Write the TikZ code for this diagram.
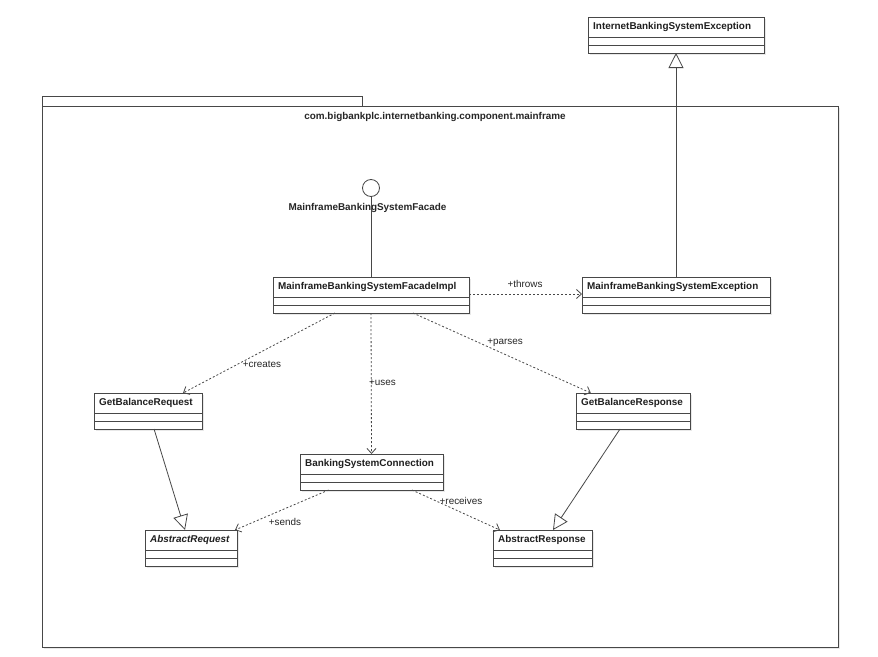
\documentclass[tikz,border=0pt]{standalone}
\usepackage{fontspec}
\setmainfont{Liberation Sans}
\usetikzlibrary{arrows.meta,calc}
\tikzset{
  ln/.style={draw=black!72, line width=0.8pt},
  classbox/.style={ln, fill=white, rectangle, inner sep=0pt, outer sep=0pt, anchor=north west},
  classname/.style={anchor=west, inner sep=0pt, font=\fontsize{9.9}{12}\selectfont\bfseries, text=black!88},
  lbl/.style={inner sep=0pt, font=\fontsize{9.9}{12}\selectfont, text=black!85},
  dep/.style={ln, dash pattern=on 2pt off 2pt, -{Straight Barb[length=5pt,width=9pt,line width=0.8pt]}},
  gen/.style={ln, -{Triangle[open, length=15pt, width=15pt, line width=0.8pt, fill=white]}},
  shadowbox/.style={fill=black!9, draw=none}
}
\newcommand\umlclass[7][]{% opts, name, x1, y1, x2, y2, text
  \fill[shadowbox] ({#3+2},{#4+2}) rectangle ({#5+2},{#6+2});
  \node[classbox, minimum width={(#5-#3)*1pt}, minimum height={(#6-#4)*1pt}] (#2) at (#3,#4) {};
  \draw[ln] ([yshift=-20pt]#2.north west) -- ([yshift=-20pt]#2.north east);
  \draw[ln] ([yshift=-28pt]#2.north west) -- ([yshift=-28pt]#2.north east);
  \node[classname,#1] (#2-name) at ([xshift=5pt,yshift=-10pt]#2.north west) {#7};
}
\begin{document}
\begin{tikzpicture}[x=1pt,y=-1pt]
\useasboundingbox (0,0) rectangle (878,656);
\fill[white] (0,0) rectangle (878,656);

% package
\fill[shadowbox] (44,108) rectangle (840,649);
\draw[ln, fill=white] (42,96) rectangle (362,106);
\node[ln, rectangle, fill=white, inner sep=0pt, outer sep=0pt, anchor=north west, minimum width=796pt, minimum height=541pt] (pkg) at (42,106) {};
\node[lbl, font=\fontsize{9.9}{12}\selectfont\bfseries] (pkglabel) at (435,117) {com.bigbankplc.internetbanking.component.mainframe};

% classes
\umlclass{ibse}{588}{17}{764}{53}{InternetBankingSystemException}
\umlclass{impl}{273}{277}{469}{313}{MainframeBankingSystemFacadeImpl}
\umlclass{mbse}{582}{277}{770}{313}{MainframeBankingSystemException}
\umlclass{gbreq}{94}{393}{202}{429}{GetBalanceRequest}
\umlclass{gbresp}{576}{393}{690}{429}{GetBalanceResponse}
\umlclass{bsc}{300}{454}{443}{490}{BankingSystemConnection}
\umlclass[font=\fontsize{9.9}{12}\selectfont\bfseries\itshape]{areq}{145}{530}{237}{566}{AbstractRequest}
\umlclass{aresp}{493}{530}{592}{566}{AbstractResponse}

% interface lollipop
\node[ln, circle, fill=white, minimum size=17pt, inner sep=0pt, outer sep=0pt] (iface) at (371,188) {};
\node[lbl, font=\fontsize{9.9}{12}\selectfont\bfseries] (ifacelabel) at (367.5,208) {MainframeBankingSystemFacade};
\draw[ln] (iface.south) -- (impl.north);

% generalizations
\draw[gen] (mbse.north) -- (ibse.south);
\draw[gen] ($(gbreq.south west)!0.556!(gbreq.south east)$) -- ($(areq.north west)!0.435!(areq.north east)$);
\draw[gen] ($(gbresp.south west)!0.386!(gbresp.south east)$) -- ($(aresp.north west)!0.606!(aresp.north east)$);

% dependencies
\draw[dep] ([yshift=-17pt]impl.north east) -- ([yshift=-17pt]mbse.north west);
\node[lbl] (throws) at (525,284) {+throws};
\draw[dep] ($(impl.south west)!0.316!(impl.south east)$) -- ($(gbreq.north west)!0.824!(gbreq.north east)$);
\node[lbl] (creates) at (262,364) {+creates};
\draw[dep] (impl.south) -- (bsc.north);
\node[lbl, anchor=west] (uses) at (369,383) {+uses};
\draw[dep] ($(impl.south west)!0.714!(impl.south east)$) -- ($(gbresp.north west)!0.13!(gbresp.north east)$);
\node[lbl] (parses) at (505,343) {+parses};
\draw[dep] ($(bsc.south west)!0.2!(bsc.south east)$) -- ($(areq.north west)!0.978!(areq.north east)$);
\node[lbl] (sends) at (285,522) {+sends};
\draw[dep] ($(bsc.south west)!0.783!(bsc.south east)$) -- ($(aresp.north west)!0.07!(aresp.north east)$);
\node[lbl] (receives) at (461,501) {+receives};
\end{tikzpicture}
\end{document}
